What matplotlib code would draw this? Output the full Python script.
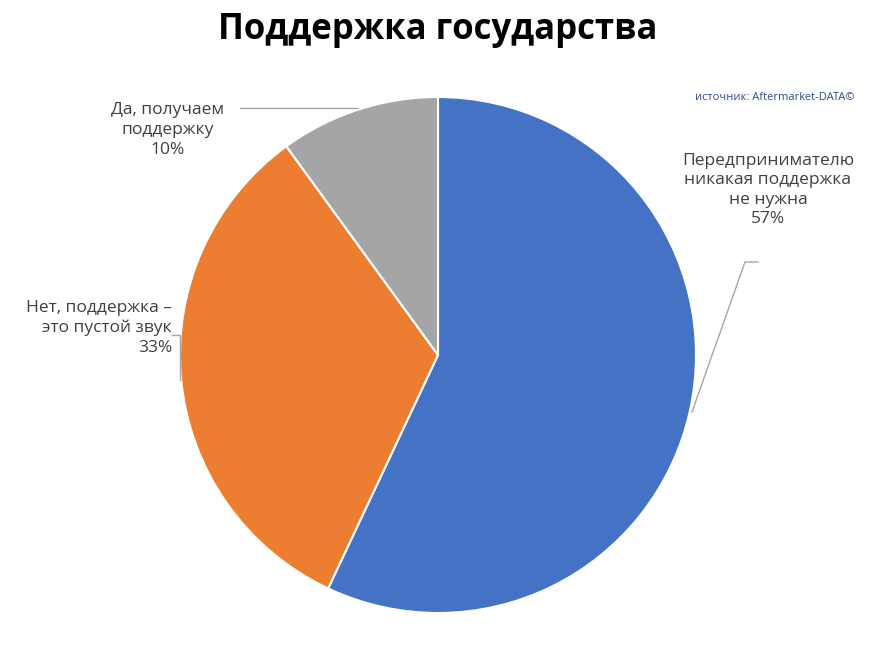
import matplotlib.pyplot as plt
from matplotlib.lines import Line2D

labels = ["Передпринимателю никакая поддержка не нужна", "Нет, поддержка – это пустой звук", "Да, получаем поддержку"]
values = [57, 33, 10]
colors = ["#4472C4", "#ED7D31", "#A5A5A5"]

W, H = 884, 650
fig = plt.figure(figsize=(W / 100, H / 100), dpi=100)
plt.rcParams["font.family"] = "Open Sans"

ax = fig.add_axes([(438 - 258) / W, (650 - 355 - 258) / H, 516 / W, 516 / H])
ax.pie(values, colors=colors, startangle=90, counterclock=False, radius=1,
       wedgeprops=dict(edgecolor="white", linewidth=1.5))
ax.set_xlim(-1, 1)
ax.set_ylim(-1, 1)
ax.set_aspect("equal")

def px(x, y):
    return x / W, 1 - y / H

fig.text(*px(438, 30), "Поддержка государства", ha="center", va="center",
         fontsize=25, fontweight="bold")
fig.text(*px(775, 97), "источник: Aftermarket-DATA©", ha="center", va="center",
         fontsize=8, color="#2F4A8C")

fig.text(*px(768, 190), "Передпринимателю\nникакая поддержка\nне нужна\n%d%%" % values[0],
         ha="center", va="center", fontsize=12.5, color="#404040", linespacing=1.3)
fig.text(*px(172, 328), "Нет, поддержка –\nэто пустой звук\n%d%%" % values[1],
         ha="right", va="center", fontsize=12.5, color="#404040", linespacing=1.3)
fig.text(*px(168, 130), "Да, получаем\nподдержку\n%d%%" % values[2],
         ha="center", va="center", fontsize=12.5, color="#404040", linespacing=1.3)

leaders = [
    [(758, 262), (745, 262), (692, 412)],
    [(172, 335), (180, 335), (180, 380)],
    [(240, 108), (358, 108)],
]
for pts in leaders:
    xs = [p[0] / W for p in pts]
    ys = [1 - p[1] / H for p in pts]
    fig.add_artist(Line2D(xs, ys, color="#A6A6A6", linewidth=1, transform=fig.transFigure))

fig.savefig("out.png", dpi=100)
